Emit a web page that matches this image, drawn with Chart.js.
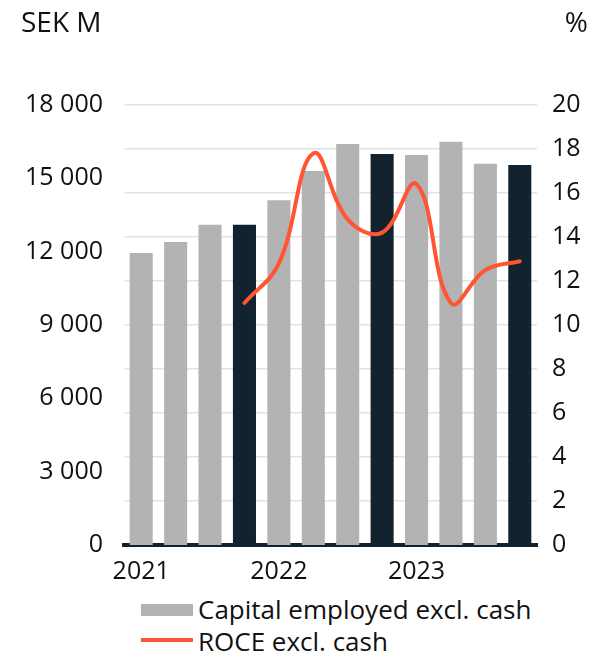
<!DOCTYPE html>
<html><head><meta charset="utf-8">
<script src="https://cdn.jsdelivr.net/npm/chart.js@4/dist/chart.umd.min.js"></script>
<style>
html,body{margin:0;padding:0;background:#fff;}
#wrap{position:relative;width:595px;height:652px;font-family:"Open Sans",sans-serif;color:#111;font-weight:400;}
canvas{position:absolute;left:0;top:0;}
.t{position:absolute;font-size:28px;line-height:1;white-space:nowrap;}
.lg{position:absolute;font-size:26px;line-height:1;white-space:nowrap;}
</style></head>
<body><div id="wrap">
<canvas id="c" width="595" height="590"></canvas>
<div class="t" style="left:21px;top:7px;">SEK M</div>
<div class="t" style="right:7px;top:7px;">%</div>
<div style="position:absolute;left:141px;top:604px;width:52px;height:12px;background:#b3b3b3;"></div>
<div class="lg" style="left:198px;top:596px;">Capital employed excl. cash</div>
<div style="position:absolute;left:141px;top:638px;width:52px;height:4px;background:#ff5533;"></div>
<div class="lg" style="left:198px;top:628px;">ROCE excl. cash</div>
</div>
<script>
const categories = ["2021","","","","2022","","","","2023","","",""];
const capitalEmployed = [11950,12400,13100,13100,14100,15300,16400,16000,15950,16500,15600,15550];
const roce = [null,null,null,11.0,12.8,17.8,14.8,14.2,16.4,11.0,12.5,12.9];
const quarterEnd = [false,false,false,true,false,false,false,true,false,false,false,true];
const leftTicks = [0,3000,6000,9000,12000,15000,18000];
const rightTicks = [0,2,4,6,8,10,12,14,16,18,20];

const barColors = quarterEnd.map(q => q ? '#12222e' : '#b3b3b3');
const fmt = v => v >= 1000 ? Math.floor(v/1000) + ' ' + String(v%1000).padStart(3,'0') : String(v);
const tickFont = {family:'"Open Sans", sans-serif', size:25, weight:'400'};

new Chart(document.getElementById('c'), {
  data: {
    labels: categories,
    datasets: [
      {type:'line', label:'ROCE excl. cash', data: roce, yAxisID:'y1',
       borderColor:'#ff5533', borderWidth:4, pointRadius:0, tension:0.4, order:0, borderCapStyle:'round'},
      {type:'bar', label:'Capital employed excl. cash', data: capitalEmployed, yAxisID:'y',
       backgroundColor: barColors, barPercentage:0.67, categoryPercentage:1.0, order:1}
    ]
  },
  options: {
    responsive:false, animation:false,
    layout:{padding:{top:105,bottom:0,left:0,right:0}},
    plugins:{legend:{display:false}, tooltip:{enabled:false}},
    scales:{
      x:{grid:{display:false, drawTicks:false},
         border:{display:true,color:'#12222e',width:4},
         ticks:{font:tickFont,color:'#111',padding:12,maxRotation:0,autoSkip:false},
         afterFit(s){s.height=45;}},
      y:{position:'left', min:0, max:18000,
         afterBuildTicks(s){s.ticks = leftTicks.map(v=>({value:v}));},
         grid:{display:false,drawTicks:false}, border:{display:false},
         ticks:{font:tickFont,color:'#111',padding:21,callback:v=>fmt(v)},
         afterFit(s){s.width=124;}},
      y1:{position:'right', min:0, max:20,
         afterBuildTicks(s){s.ticks = rightTicks.map(v=>({value:v}));},
         grid:{display:true,color:'#e3e3e3',lineWidth:1.5,drawTicks:false}, border:{display:false},
         ticks:{font:tickFont,color:'#111',padding:15},
         afterFit(s){s.width=58;}}
    }
  }
});
</script>
</body></html>
